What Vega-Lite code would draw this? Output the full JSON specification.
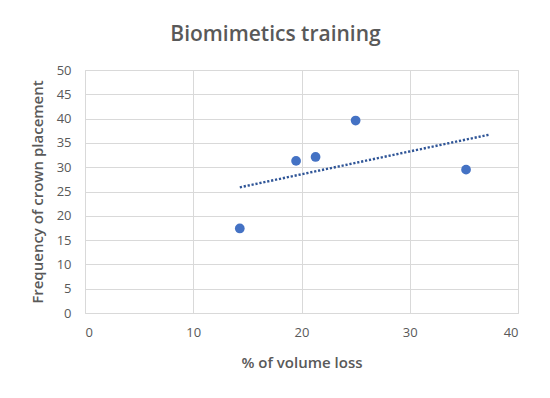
{
  "$schema": "https://vega.github.io/schema/vega-lite/v6.json",
  "autosize": "none",
  "width": 433,
  "height": 243,
  "padding": {"left": 85, "top": 70, "right": 32, "bottom": 85},
  "background": "white",
  "title": {
    "text": "Biomimetics training",
    "font": "Open Sans",
    "fontSize": 21,
    "fontWeight": 600,
    "color": "#595959",
    "anchor": "middle",
    "dx": -26,
    "offset": 19
  },
  "config": {
    "view": {"stroke": "#D9D9D9", "strokeWidth": 1},
    "axis": {
      "labelFont": "Open Sans",
      "labelFontSize": 13,
      "labelColor": "#595959",
      "labelOverlap": false,
      "titleFont": "Open Sans",
      "titleFontSize": 15,
      "titleFontWeight": 600,
      "titleColor": "#595959",
      "gridColor": "#D9D9D9",
      "gridWidth": 1,
      "domain": false,
      "ticks": false
    }
  },
  "data": {
    "values": [
      {"loss": 14.3, "freq": 17.4},
      {"loss": 19.5, "freq": 31.3},
      {"loss": 21.3, "freq": 32.1},
      {"loss": 25.0, "freq": 39.6},
      {"loss": 35.2, "freq": 29.5}
    ]
  },
  "encoding": {
    "x": {
      "field": "loss",
      "type": "quantitative",
      "title": "% of volume loss",
      "scale": {"domain": [0, 40], "nice": false, "zero": true},
      "axis": {"values": [0, 10, 20, 30, 40], "labelPadding": 13, "titlePadding": 16}
    },
    "y": {
      "field": "freq",
      "type": "quantitative",
      "title": "Frequency of crown placement",
      "scale": {"domain": [0, 50], "nice": false},
      "axis": {"values": [0, 5, 10, 15, 20, 25, 30, 35, 40, 45, 50], "labelPadding": 14, "titlePadding": 11}
    }
  },
  "layer": [
    {
      "transform": [
        {"regression": "freq", "on": "loss", "extent": [14.3, 37.4]}
      ],
      "mark": {"type": "line", "color": "#2F5597", "strokeWidth": 2.4, "strokeDash": [2.2, 1.8]}
    },
    {
      "mark": {"type": "point", "filled": true, "color": "#4472C4", "opacity": 1, "size": 95}
    }
  ]
}
